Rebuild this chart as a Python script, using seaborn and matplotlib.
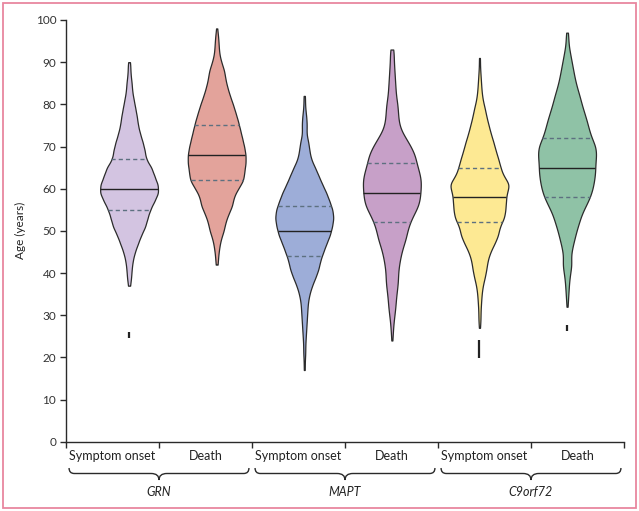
import numpy as np
import pandas as pd
import matplotlib
matplotlib.use("Agg")
import matplotlib.pyplot as plt
import matplotlib.transforms as mtransforms
from matplotlib.path import Path
from matplotlib.patches import PathPatch, Rectangle
import seaborn as sns

# groups in plotting order
groups = ["GRN onset", "GRN death", "MAPT onset", "MAPT death", "C9orf72 onset", "C9orf72 death"]
x_labels = ["Symptom onset", "Death", "Symptom onset", "Death", "Symptom onset", "Death"]
genes = ["GRN", "MAPT", "C9orf72"]
colors = ["#d3c4e1", "#e3a39b", "#9dadd8", "#c7a0c8", "#fde993", "#8fc2a6"]

# ages (2-year steps) and how many people sit at each
grn_onset_age = np.append(np.arange(37, 90, 2), 90)
grn_onset_n = [2, 4, 5, 7, 11, 17, 23, 31, 35, 40, 48, 56, 55, 48, 43,
               32, 30, 26, 21, 17, 15, 12, 9, 6, 5, 3, 2, 1]

grn_death_age = np.arange(42, 99, 2)
grn_death_n = [2, 3, 5, 8, 14, 17, 23, 31, 33, 42, 53, 54, 57, 57, 54,
               50, 46, 42, 37, 32, 26, 21, 17, 15, 9, 5, 4, 3, 1]

mapt_onset_age = np.append(np.arange(17, 82, 2), 82)
mapt_onset_n = [1, 1, 2, 2, 3, 4, 5, 6, 7, 10, 15, 22, 28, 31, 37, 43, 50,
                54, 57, 55, 49, 43, 35, 28, 21, 13, 10, 8, 4, 5, 4, 2, 1, 1]

mapt_death_age = np.append(np.arange(24, 93, 2), 93)
mapt_death_n = [1, 2, 3, 5, 7, 8, 10, 12, 12, 14, 17, 21, 27, 30, 35, 43, 52,
                55, 56, 57, 53, 48, 45, 37, 27, 17, 13, 12, 11, 8, 7, 6, 5, 4, 3, 2]

c9_onset_age = np.arange(27, 92, 2)
c9_onset_n = [1, 2, 2, 3, 4, 6, 10, 13, 15, 20, 28, 35, 37, 46, 48, 49, 50,
              57, 44, 39, 35, 30, 26, 21, 17, 13, 10, 6, 4, 3, 2, 1, 1]

c9_death_age = np.append(np.arange(32, 97, 2), 97)
c9_death_n = [1, 2, 3, 4, 6, 9, 7, 10, 14, 18, 23, 28, 36, 44, 49, 52, 54,
              54, 56, 55, 47, 42, 38, 33, 28, 24, 19, 15, 12, 9, 6, 3, 2, 1]

# median and quartiles as drawn in the figure
medians = [60, 68, 50, 59, 58, 65]
q1 = [55, 62, 44, 52, 52, 58]
q3 = [67, 75, 56, 66, 65, 72]

# isolated low values shown as short dashes below the violins
outlier_pos = [0, 4, 5]
outlier_lo = [24.6, 19.8, 26.2]
outlier_hi = [25.9, 24.0, 27.6]

ages = [grn_onset_age, grn_death_age, mapt_onset_age, mapt_death_age, c9_onset_age, c9_death_age]
counts = [grn_onset_n, grn_death_n, mapt_onset_n, mapt_death_n, c9_onset_n, c9_death_n]

rows = []
for g, a, n in zip(groups, ages, counts):
    for age in np.repeat(a, n):
        rows.append({"group": g, "age": age})
df = pd.DataFrame(rows)

sns.set_style("ticks")
plt.rcParams["font.family"] = ["Lato", "DejaVu Sans"]

fig = plt.figure(figsize=(6.39, 5.11), dpi=100)
ax = fig.add_axes([66 / 639, (511 - 441.7) / 511, 558 / 639, 421.7 / 511])

sns.violinplot(data=df, x="group", y="age", hue="group", order=groups, hue_order=groups,
               palette=colors, saturation=1, cut=0, inner=None, density_norm="width",
               width=0.66, bw_method=0.12, gridsize=300, linewidth=0.9,
               linecolor="#2b2b2b", legend=False, ax=ax)

# median (solid) and quartiles (dashed) spanning the violin width
for coll in ax.collections:
    verts = coll.get_paths()[0].vertices
    pos = int(round(verts[:, 0].mean()))
    right = verts[verts[:, 0] >= pos]
    right = right[np.argsort(right[:, 1])]
    for val, style in [(q1[pos], "q"), (medians[pos], "m"), (q3[pos], "q")]:
        hw = np.interp(val, right[:, 1], right[:, 0]) - pos
        if style == "m":
            ax.hlines(val, pos - hw, pos + hw, color="#222222", lw=1.0, zorder=3)
        else:
            ax.hlines(val, pos - hw, pos + hw, color="#5d7080", lw=1.0,
                      linestyles=(0, (3, 2.2)), zorder=3)

ax.vlines(outlier_pos, outlier_lo, outlier_hi, color="#222222", lw=1.6, zorder=3)

xlim = (-0.72, 5.65)
bounds = np.linspace(xlim[0], xlim[1], 7)
centers = (bounds[:-1] + bounds[1:]) / 2
ax.set_xlim(*xlim)
ax.set_ylim(0, 100)
ax.set_yticks(np.arange(0, 101, 10))
ax.set_xticks(bounds)
ax.set_xticklabels([])
ax.set_xticks(centers, minor=True)
ax.set_xticklabels(x_labels, minor=True)
ax.tick_params(axis="x", which="major", length=4, width=1.0, color="#2a2a2a")
ax.tick_params(axis="x", which="minor", length=0, pad=6, labelsize=9, labelcolor="#222222")
ax.tick_params(axis="y", length=4, width=1.0, color="#2a2a2a", labelsize=8.5,
               labelcolor="#333333", pad=3)
ax.set_xlabel("")
ax.set_ylabel("Age (years)", fontsize=8.5, color="#222222")
ax.yaxis.set_label_coords(-0.072, 0.5)
for side in ["top", "right"]:
    ax.spines[side].set_visible(False)
for side in ["left", "bottom"]:
    ax.spines[side].set_color("#2a2a2a")
    ax.spines[side].set_linewidth(1.0)

# curly braces under each gene pair
trans = mtransforms.blended_transform_factory(ax.transData, fig.transFigure)
y_top, y_line, y_tip = (511 - 468) / 511, (511 - 473.5) / 511, (511 - 480) / 511
for k, gene in enumerate(genes):
    x0, x1 = bounds[2 * k] + 0.035, bounds[2 * k + 2] - 0.035
    xc = bounds[2 * k + 1]
    dx, dc = 0.06, 0.09
    verts = [(x0, y_top), (x0, y_line), (x0 + dx, y_line),
             (xc - dc, y_line), (xc, y_line), (xc, y_tip),
             (xc, y_line), (xc + dc, y_line),
             (x1 - dx, y_line), (x1, y_line), (x1, y_top)]
    codes = [Path.MOVETO, Path.CURVE3, Path.CURVE3,
             Path.LINETO, Path.CURVE3, Path.CURVE3,
             Path.CURVE3, Path.CURVE3,
             Path.LINETO, Path.CURVE3, Path.CURVE3]
    ax.add_patch(PathPatch(Path(verts, codes), transform=trans, fill=False,
                           edgecolor="#2a2a2a", lw=1.0, clip_on=False))
    ax.text(xc, (511 - 492) / 511, gene, transform=trans, ha="center", va="center",
            fontsize=9, style="italic", color="#222222")

# pink frame round the whole figure
fig.patches.append(Rectangle((3 / 639, 3.5 / 511), 633 / 639, 504.5 / 511,
                             transform=fig.transFigure, fill=False,
                             edgecolor="#e8879f", lw=1.3))

fig.savefig("out.png", dpi=100)
